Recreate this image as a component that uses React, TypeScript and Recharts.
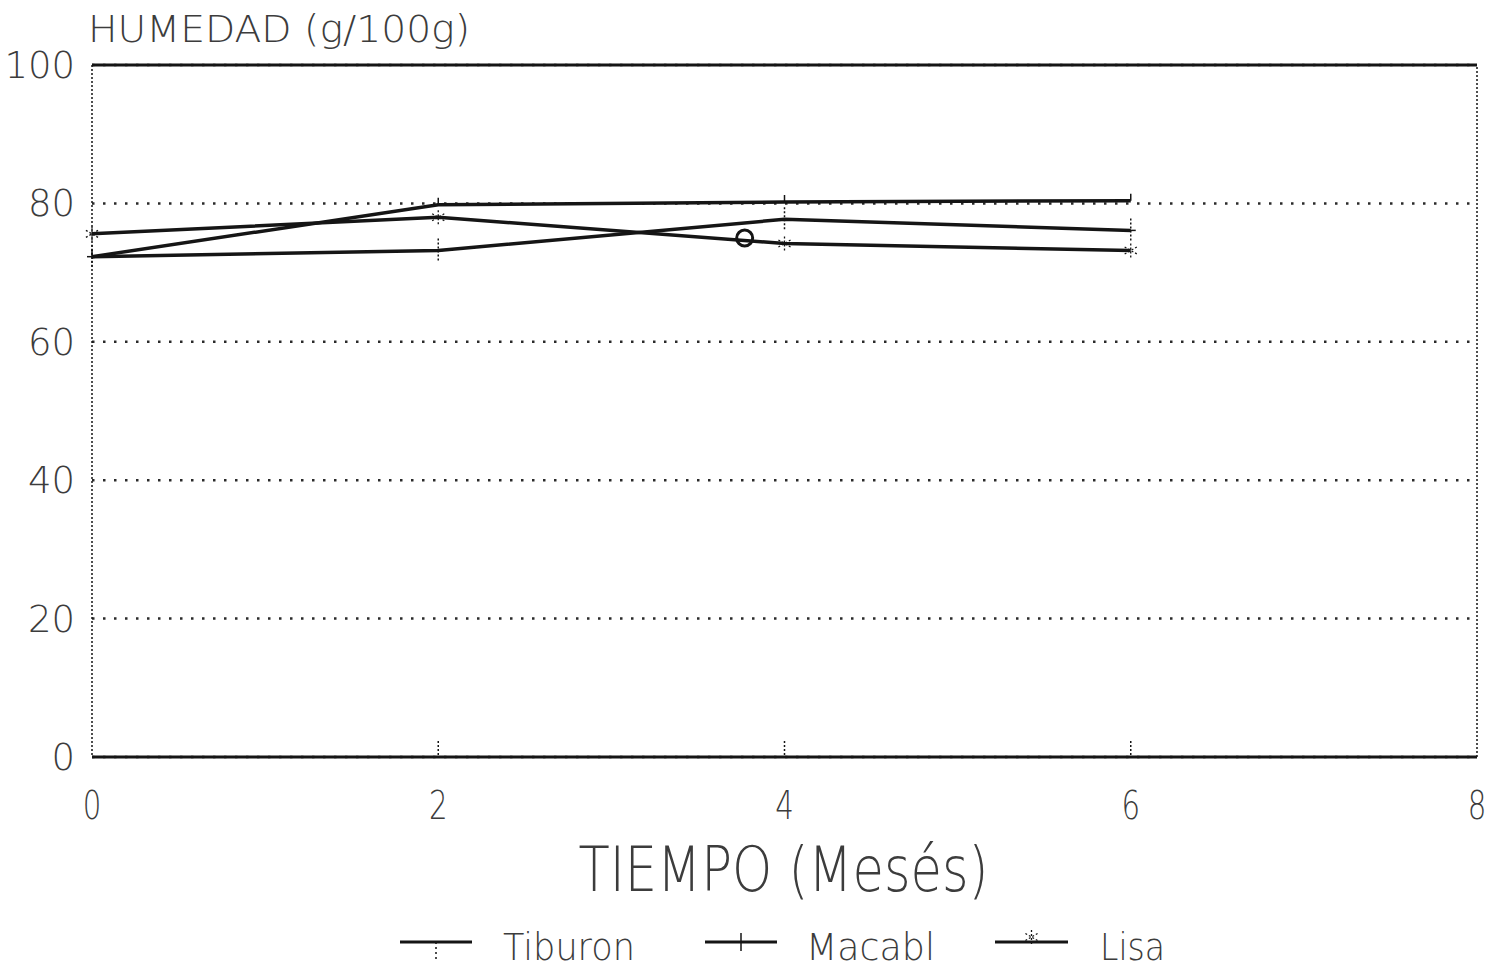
import React from 'react';
import {
  ComposedChart,
  Line,
  Scatter,
  XAxis,
  YAxis,
  CartesianGrid,
  ReferenceLine,
  Legend,
} from 'recharts';

// ---- data ----
const months = [0, 2, 4, 6];
const tiburon = [72.3, 79.8, 80.2, 80.4];
const macabl = [72.3, 73.2, 77.7, 76.1];
const lisa = [75.6, 78.0, 74.2, 73.2];
const xTicks = [0, 2, 4, 6, 8];
const yTicks = [0, 20, 40, 60, 80, 100];
const seriesNames = ['Tiburon', 'Macabl', 'Lisa'];
const strayMarkX = [3.77];
const strayMarkY = [75.0];
const yTitle = 'HUMEDAD (g/100g)';
const xTitle = 'TIEMPO (Mesés)';

const toRows = (vals: number[]) => months.map((m, i) => ({ x: m, y: vals[i] }));
const tiburonRows = toRows(tiburon);
const macablRows = toRows(macabl);
const lisaRows = toRows(lisa);
const strayRows = strayMarkX.map((x, i) => ({ x, y: strayMarkY[i] }));

const INK = '#151515';
const TEXT = '#3c3c3c';
const FONT = '"DejaVu Sans", "Liberation Sans", sans-serif';

const TiburonDot = (p: any) => {
  const { cx, cy } = p;
  if (cx == null || cy == null) return null;
  return <line x1={cx} y1={cy} x2={cx} y2={cy - 7} stroke={INK} strokeWidth={1.5} />;
};

const MacablDot = (p: any) => {
  const { cx, cy } = p;
  if (cx == null || cy == null) return null;
  return (
    <g>
      <line x1={cx} y1={cy - 12} x2={cx} y2={cy + 12} stroke={INK} strokeWidth={1.5} strokeDasharray="2 2" />
      <line x1={cx - 5} y1={cy} x2={cx + 5} y2={cy} stroke={INK} strokeWidth={1.5} />
    </g>
  );
};

const LisaDot = (p: any) => {
  const { cx, cy } = p;
  if (cx == null || cy == null) return null;
  const r = 7;
  return (
    <g stroke={INK} strokeWidth={1.3} strokeDasharray="2 2">
      <line x1={cx} y1={cy - r} x2={cx} y2={cy + r} />
      <line x1={cx - r * 0.87} y1={cy - r * 0.5} x2={cx + r * 0.87} y2={cy + r * 0.5} />
      <line x1={cx - r * 0.87} y1={cy + r * 0.5} x2={cx + r * 0.87} y2={cy - r * 0.5} />
    </g>
  );
};

const dotRenderers = [TiburonDot, MacablDot, LisaDot];

const YTick = (p: any) => {
  const { x, y, payload } = p;
  return (
    <text
      x={x - 17}
      y={y + 13}
      textAnchor="end"
      fontFamily={FONT}
      fontWeight={200}
      fontSize={37}
      fill={TEXT}
    >
      {payload.value}
    </text>
  );
};

const XTick = (p: any) => {
  const { x, y, payload } = p;
  const inner = payload.value > 0 && payload.value < 8;
  return (
    <g>
      {inner && (
        <line x1={x} y1={y - 16} x2={x} y2={y} stroke={INK} strokeWidth={1.5} strokeDasharray="2 2" />
      )}
      <text
        transform={`translate(${x},${y + 62}) scale(0.75,1)`}
        textAnchor="middle"
        fontFamily={FONT}
        fontWeight={200}
        fontSize={39}
        fill={TEXT}
      >
        {payload.value}
      </text>
    </g>
  );
};

const XTitle = (p: any) => {
  const vb = p.viewBox || { x: 92, y: 757, width: 1385 };
  const cx = vb.x + vb.width / 2;
  return (
    <text
      x={cx - 206}
      y={vb.y + 134}
      textLength={410}
      lengthAdjust="spacingAndGlyphs"
      fontFamily={FONT}
      fontWeight={200}
      fontSize={62}
      fill={TEXT}
    >
      {xTitle}
    </text>
  );
};

const YTitle = (p: any) => {
  const vb = p.viewBox || { x: 72, y: 65, width: 20 };
  return (
    <text
      x={vb.x + vb.width - 4}
      y={vb.y - 23}
      textLength={382}
      lengthAdjust="spacingAndGlyphs"
      fontFamily={FONT}
      fontWeight={200}
      fontSize={37}
      fill={TEXT}
    >
      {yTitle}
    </text>
  );
};

const legendLines = [
  [400, 472],
  [705, 777],
  [995, 1068],
];
const legendTextX = [503, 806, 1100];
const legendTextLen = [132, 129, 65];

const LegendContent = () => (
  <svg width={1489} height={56} style={{ display: 'block', overflow: 'visible' }}>
    {seriesNames.map((name, i) => {
      const [a, b] = legendLines[i];
      const mid = (a + b) / 2;
      const ly = 31;
      return (
        <g key={name}>
          <line x1={a} y1={ly} x2={b} y2={ly} stroke={INK} strokeWidth={3} />
          {i === 0 && (
            <line x1={mid} y1={ly} x2={mid} y2={ly + 18} stroke={INK} strokeWidth={1.5} strokeDasharray="2 3" />
          )}
          {i === 1 && (
            <line x1={mid} y1={ly - 9} x2={mid} y2={ly + 9} stroke={INK} strokeWidth={1.5} />
          )}
          {i === 2 && <LisaDot cx={mid} cy={ly - 5} />}
          <text
            x={legendTextX[i]}
            y={49}
            textLength={legendTextLen[i]}
            lengthAdjust="spacingAndGlyphs"
            fontFamily={FONT}
            fontWeight={200}
            fontSize={37}
            fill={TEXT}
          >
            {name}
          </text>
        </g>
      );
    })}
  </svg>
);

const seriesRows = [tiburonRows, macablRows, lisaRows];

export default function App() {
  return (
    <div style={{ position: 'absolute', left: 0, top: 0, width: 1489, height: 970, background: '#fff' }}>
      <ComposedChart
        width={1489}
        height={970}
        margin={{ top: 65, right: 12, left: 72, bottom: 117 }}
      >
        <CartesianGrid
          vertical={false}
          stroke="#2a2a2a"
          strokeWidth={2.5}
          strokeDasharray="2.5 8.5"
        />
        <XAxis
          dataKey="x"
          type="number"
          domain={[0, 8]}
          ticks={xTicks}
          interval={0}
          tickSize={0}
          tickMargin={0}
          tickLine={false}
          tick={<XTick />}
          axisLine={{ stroke: INK, strokeWidth: 3 }}
          height={40}
          label={{ content: <XTitle /> }}
        />
        <YAxis
          type="number"
          domain={[0, 100]}
          ticks={yTicks}
          interval={0}
          width={20}
          tickSize={0}
          tickMargin={0}
          tickLine={false}
          tick={<YTick />}
          axisLine={{ stroke: INK, strokeWidth: 1.5, strokeDasharray: '2 2' }}
          label={{ content: <YTitle /> }}
        />
        <ReferenceLine y={100} stroke={INK} strokeWidth={3} />
        <ReferenceLine x={8} stroke={INK} strokeWidth={1.5} strokeDasharray="2 2" />
        {seriesNames.map((name, i) => {
          const Dot = dotRenderers[i];
          return (
            <Line
              key={name}
              name={name}
              data={seriesRows[i]}
              dataKey="y"
              type="linear"
              stroke={INK}
              strokeWidth={3.5}
              dot={(p: any) => <Dot key={`${name}-${p.index}`} {...p} />}
              activeDot={false}
              isAnimationActive={false}
            />
          );
        })}
        <Scatter
          name="mark"
          data={strayRows}
          dataKey="y"
          legendType="none"
          isAnimationActive={false}
          shape={(p: any) => (
            <circle cx={p.cx} cy={p.cy} r={8} fill="none" stroke={INK} strokeWidth={3} />
          )}
        />
        <Legend
          content={<LegendContent />}
          wrapperStyle={{ position: 'absolute', left: 0, top: 911, width: 1489, height: 56 }}
        />
      </ComposedChart>
    </div>
  );
}
